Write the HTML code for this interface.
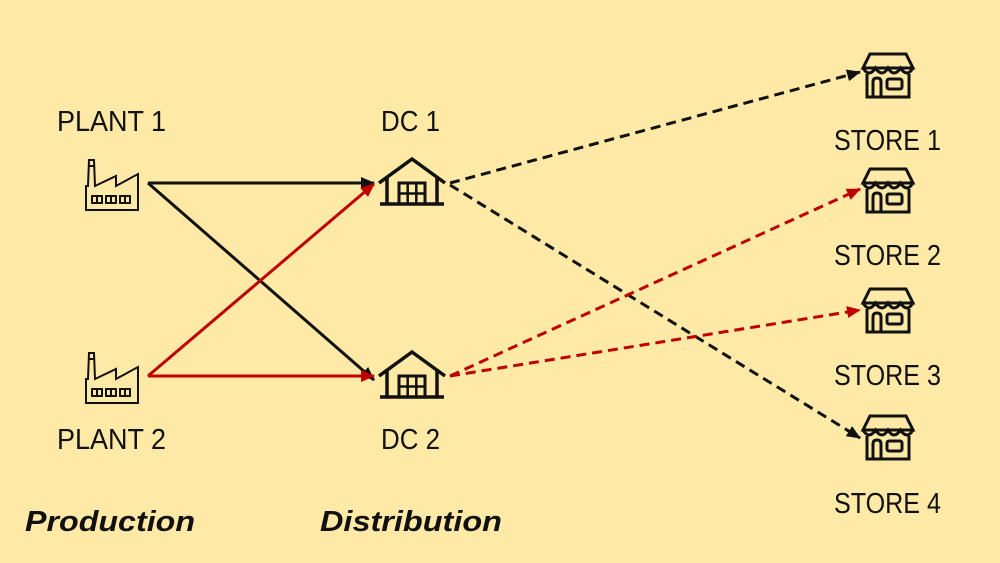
<!DOCTYPE html>
<html><head><meta charset="utf-8"><style>
html,body{margin:0;padding:0;background:#FFE9A6;}
svg{display:block;}
text{font-family:"Liberation Sans",sans-serif;fill:#111;}
</style></head><body>
<svg width="1000" height="563" viewBox="0 0 1000 563" xmlns="http://www.w3.org/2000/svg">
<defs>
<marker id="ak" viewBox="0 0 14 12" refX="13" refY="6" markerWidth="14" markerHeight="12" orient="auto" markerUnits="userSpaceOnUse">
<path d="M0 0 L14 6 L0 12 Z" fill="#111"/>
</marker>
<marker id="ar" viewBox="0 0 14 12" refX="13" refY="6" markerWidth="14" markerHeight="12" orient="auto" markerUnits="userSpaceOnUse">
<path d="M0 0 L14 6 L0 12 Z" fill="#C00000"/>
</marker>
<g id="factory" fill="none" stroke="#111" stroke-width="2">
<path d="M0 54 V30 L2 30 L3 4 H8 L9 30 L30 20 V30 L52 18 V54 Z"/>
<path d="M2.5 10 H8.5"/>
<rect x="6" y="40" width="10" height="7"/><rect x="20" y="40" width="10" height="7"/><rect x="34" y="40" width="10" height="7"/>
<path d="M11 40 V47 M25 40 V47 M39 40 V47"/>
</g>
<g id="dc" fill="none" stroke="#111" stroke-width="3.5">
<path d="M0 26 L33 2 L66 26"/>
<path d="M8 21 V47 M58 21 V47"/>
<path d="M1 47 H65"/>
<rect x="20" y="26" width="26" height="21" stroke-width="3"/>
<path d="M28.7 26 V47 M37.3 26 V47 M20 36.5 H46" stroke-width="2.5"/>
</g>
<g id="store" fill="none" stroke="#111" stroke-width="3">
<path d="M8 2 H44 L51 16 H1 Z"/>
<path d="M1 16 Q7 26 13.5 16 Q20 26 26 16 Q32 26 38.5 16 Q45 26 51 16"/>
<path d="M5 22 V45 H47 V22"/>
<path d="M11 45 V30 Q11 26 15 26 Q19 26 19 30 V45"/>
<rect x="25" y="27" width="15" height="10" rx="2"/>
</g>
</defs>
<rect width="1000" height="563" fill="#FFE9A6"/>

<g stroke-width="3" fill="none">
<line x1="148" y1="183" x2="374" y2="183" stroke="#111" marker-end="url(#ak)"/>
<line x1="148" y1="183" x2="374" y2="380" stroke="#111" marker-end="url(#ak)"/>
<line x1="148" y1="376" x2="374" y2="184" stroke="#C00000" marker-end="url(#ar)"/>
<line x1="148" y1="376" x2="374" y2="376" stroke="#C00000" marker-end="url(#ar)"/>
</g>
<g stroke-width="3" fill="none" stroke-dasharray="10,6">
<line x1="450" y1="183" x2="860" y2="72" stroke="#111" marker-end="url(#ak)"/>
<line x1="450" y1="185" x2="860" y2="438" stroke="#111" marker-end="url(#ak)"/>
<line x1="450" y1="376" x2="860" y2="189" stroke="#C00000" marker-end="url(#ar)"/>
<line x1="450" y1="376" x2="860" y2="310" stroke="#C00000" marker-end="url(#ar)"/>
</g>

<use href="#factory" x="86" y="156"/>
<use href="#factory" x="86" y="349"/>
<use href="#dc" x="379" y="157"/>
<use href="#dc" x="379" y="350"/>
<use href="#store" x="862" y="52"/>
<use href="#store" x="862" y="167"/>
<use href="#store" x="862" y="287"/>
<use href="#store" x="862" y="414"/>

<g font-size="29">
<text x="57" y="131" textLength="109" lengthAdjust="spacingAndGlyphs">PLANT 1</text>
<text x="57" y="449" textLength="109" lengthAdjust="spacingAndGlyphs">PLANT 2</text>
<text x="381" y="131" textLength="59" lengthAdjust="spacingAndGlyphs">DC 1</text>
<text x="381" y="449" textLength="59" lengthAdjust="spacingAndGlyphs">DC 2</text>
<text x="834" y="150" textLength="107" lengthAdjust="spacingAndGlyphs">STORE 1</text>
<text x="834" y="265" textLength="107" lengthAdjust="spacingAndGlyphs">STORE 2</text>
<text x="834" y="385" textLength="107" lengthAdjust="spacingAndGlyphs">STORE 3</text>
<text x="834" y="513" textLength="107" lengthAdjust="spacingAndGlyphs">STORE 4</text>
</g>
<g font-size="29" font-weight="bold" font-style="italic">
<text x="25" y="531" textLength="170" lengthAdjust="spacingAndGlyphs">Production</text>
<text x="320" y="531" textLength="182" lengthAdjust="spacingAndGlyphs">Distribution</text>
</g>
</svg>
</body></html>
